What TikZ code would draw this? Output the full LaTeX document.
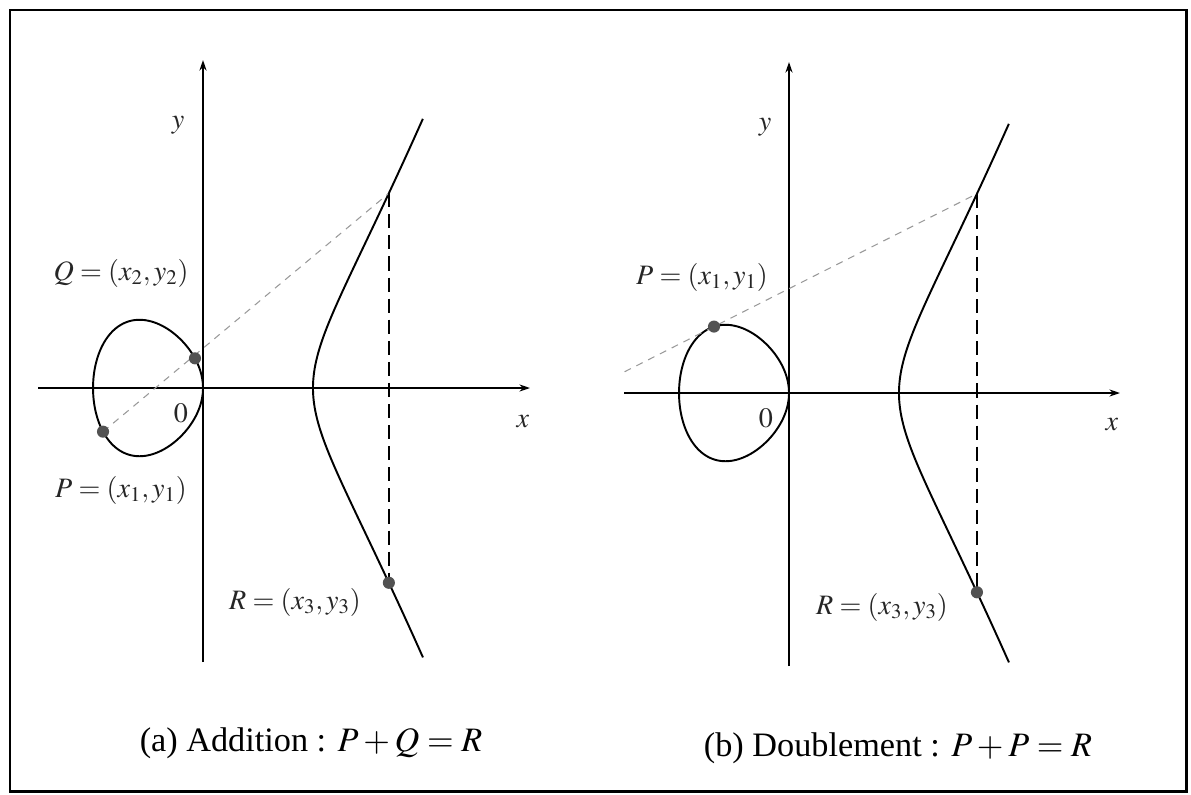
\documentclass[tikz,border=0pt]{standalone}
\usepackage{mathptmx}
\usepackage{fontspec}
\setmainfont{Liberation Serif}
\usetikzlibrary{calc,arrows.meta}
\tikzset{
  axis/.style={line width=1.1pt, -{Stealth[length=6pt,width=4pt]}},
  curve/.style={line width=1.1pt},
  secant/.style={black!40, line width=0.6pt, dash pattern=on 4pt off 3.5pt},
  vdash/.style={line width=1pt, dash pattern=on 8pt off 4pt},
  dot/.style={circle, fill=black!68, inner sep=0pt, minimum size=6.9pt},
  lbl/.style={font=\fontsize{16}{19}\selectfont, inner sep=0pt, text=black!85},
  capt/.style={font=\fontsize{19.5}{23}\selectfont, inner sep=0pt},
}
\begin{document}
\begin{tikzpicture}[x=0.02cm, y=-0.02cm]
\useasboundingbox (0,0) rectangle (1191,795);
\draw[line width=1.7pt] (10,10) rectangle (1186,791);

% ---------- panel (a) ----------
\coordinate (axL) at (38,388);
\coordinate (axR) at (530,388);
\coordinate (ayB) at (203,662);
\coordinate (ayT) at (203,60);
\draw[axis] (axL) -- (axR);
\draw[axis] (ayB) -- (ayT);
\begin{scope}[shift={(203,388)}, x=2.2cm, y=2.2cm]
  \draw[curve] plot[domain=0:360, samples=121, smooth]
    ({-(1-cos(\x))/2}, {0.5*sin(\x)*sqrt(1+(1-cos(\x))/2)});
  \draw[curve] plot[domain=-1:1, samples=81, smooth]
    ({1+\x*\x}, {\x*sqrt((1+\x*\x)*(2+\x*\x))});
  \coordinate (aP) at (-0.909,-0.397);
  \coordinate (aQ) at (-0.073,0.270);
  \coordinate (aT) at (1.69,1.771);
  \coordinate (aR) at (1.69,-1.771);
\end{scope}
\draw[secant] (aP) -- (aT);
\draw[vdash] (aT) -- (aR);
\node[dot] (aPd) at (aP) {};
\node[dot] (aQd) at (aQ) {};
\node[dot] (aRd) at (aR) {};
\node[lbl] (ay) at (178,125) {$y$};
\node[lbl] (ax) at (523,422) {$x$};
\node[lbl] (a0) at (181,413) {$0$};
\node[lbl] (aQl) at (121,273) {$Q=(x_2,y_2)$};
\node[lbl] (aPl) at (121,490) {$P=(x_1,y_1)$};
\node[lbl] (aRl) at (295,602) {$R=(x_3,y_3)$};
\node[capt] (acap) at (311,743) {(a) Addition : $P+Q=R$};

% ---------- panel (b) ----------
\coordinate (bxL) at (624,393);
\coordinate (bxR) at (1120,393);
\coordinate (byB) at (789,666);
\coordinate (byT) at (789,62);
\draw[axis] (bxL) -- (bxR);
\draw[axis] (byB) -- (byT);
\begin{scope}[shift={(789,393)}, x=2.2cm, y=2.2cm]
  \draw[curve] plot[domain=0:360, samples=121, smooth]
    ({-(1-cos(\x))/2}, {0.5*sin(\x)*sqrt(1+(1-cos(\x))/2)});
  \draw[curve] plot[domain=-1:1, samples=81, smooth]
    ({1+\x*\x}, {\x*sqrt((1+\x*\x)*(2+\x*\x))});
  \coordinate (bP) at (-0.682,0.604);
  \coordinate (bT) at (1.709,1.812);
  \coordinate (bR) at (1.709,-1.812);
\end{scope}
\coordinate (bL) at ($(bP)!-0.34!(bT)$);
\draw[secant] (bL) -- (bT);
\draw[vdash] (bT) -- (bR);
\node[dot] (bPd) at (bP) {};
\node[dot] (bRd) at (bR) {};
\node[lbl] (by) at (765,127) {$y$};
\node[lbl] (bx) at (1112,425) {$x$};
\node[lbl] (b0) at (766,418) {$0$};
\node[lbl] (bPl) at (702,277) {$P=(x_1,y_1)$};
\node[lbl] (bRl) at (882,607) {$R=(x_3,y_3)$};
\node[capt] (bcap) at (898,748) {(b) Doublement : $P+P=R$};
\end{tikzpicture}
\end{document}
